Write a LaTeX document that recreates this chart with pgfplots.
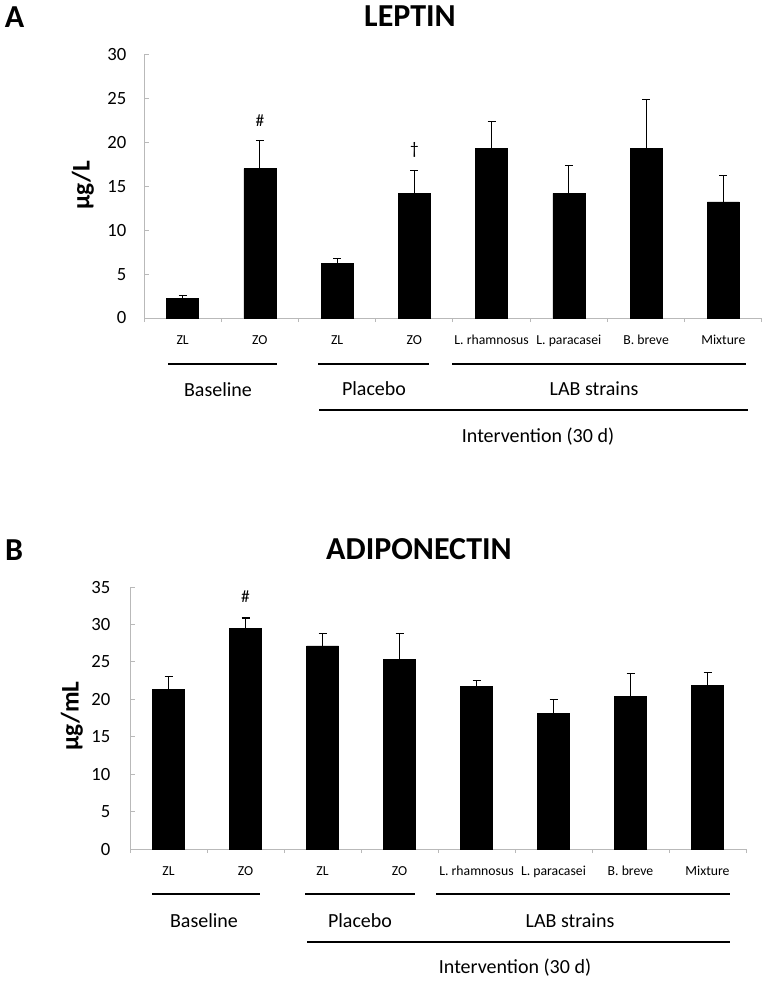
\documentclass[border=0pt]{standalone}
\usepackage{fontspec}
\setmainfont{Carlito}
\usepackage{pgfplots}
\pgfplotsset{compat=1.18}
\usepackage{pgfplotstable}

\pgfplotstableread{
x y e
0.5 2.25 0.28
1.5 17.0 3.2
2.5 6.18 0.6
3.5 14.18 2.65
4.5 19.29 3.1
5.5 14.18 3.17
6.5 19.29 5.6
7.5 13.23 3.0
}\leptin

\pgfplotstableread{
x y e
0.5 21.34 1.66
1.5 29.46 1.4
2.5 27.14 1.6
3.5 25.36 3.44
4.5 21.7 0.82
5.5 18.1 1.86
6.5 20.4 3.1
7.5 21.9 1.67
}\adipo

\pgfplotsset{
  mybars/.style={
    scale only axis, anchor=south west,
    xmin=0, xmax=8, ymin=0,
    axis x line*=bottom, axis y line*=left,
    axis line style={draw=gray!55, line width=0.75pt, -},
    tick align=inside,
    xtick={0.5,1.5,...,7.5},
    xticklabels={ZL,ZO,ZL,ZO,L. rhamnosus,L. paracasei,B. breve,Mixture},
    major x tick style={draw=none},
    minor xtick={0,1,...,8},
    minor tick length=3pt,
    minor x tick style={draw=gray!55, line width=0.75pt, yshift=-3pt},
    major tick length=3.5pt,
    major y tick style={draw=gray!55, line width=0.75pt},
    xticklabel style={anchor=base, yshift=-19.5pt, font=\fontsize{10.3}{12}\selectfont},
    yticklabel style={anchor=east, inner sep=0pt, font=\fontsize{14}{16}\selectfont},
    /pgf/number format/assume math mode=true,
    clip=false,
  },
  mybarplot/.style={
    ybar, bar width=24pt, bar shift=0pt, fill=black, draw=black,
    error bars/.cd, y dir=plus, y explicit,
    error bar style={black, line width=0.9pt},
    error mark options={rotate=90, mark size=3pt, black, line width=0.9pt},
  },
}

\begin{document}
\begin{tikzpicture}
\useasboundingbox (0,0) rectangle (576pt,-736.5pt);

% Panel A
\begin{axis}[mybars, at={(108pt,-238.5pt)}, width=463.5pt, height=197.6pt,
  ymax=30, ytick={0,5,...,30}, yticklabel style={xshift=-13pt}]
\addplot[mybarplot] table[x=x, y=y, y error=e] {\leptin};
\node[font=\fontsize{13}{15}\selectfont] at (axis cs:1.5,22.5) {\#};
\node[font=\fontsize{13}{15}\selectfont] at (axis cs:3.5,19.1) {\textdagger};
\end{axis}

% Panel B
\begin{axis}[mybars, at={(97.5pt,-636.75pt)}, width=462pt, height=196.5pt,
  ymax=35, ytick={0,5,...,35}, yticklabel style={xshift=-14.5pt}]
\addplot[mybarplot] table[x=x, y=y, y error=e] {\adipo};
\node[font=\fontsize{13}{15}\selectfont] at (axis cs:1.5,33.66) {\#};
\end{axis}

\begin{scope}[x=0.75pt, y=-0.75pt]
% Panel A texts
\node[font=\bfseries\fontsize{24}{28}\selectfont] at (14.5,17.5) {A};
\node[font=\bfseries\fontsize{24}{28}\selectfont] at (410,16.5) {LEPTIN};
\node[font=\bfseries\fontsize{19}{22}\selectfont, rotate=90] at (83,185) {μg/L};
\draw[line width=1pt] (168,364) -- (277,364);
\draw[line width=1pt] (318,364) -- (429,364);
\draw[line width=1pt] (452,364) -- (746,364);
\draw[line width=1pt] (319,410) -- (748,410);
\node[font=\fontsize{15}{18}\selectfont] at (218,390) {Baseline};
\node[font=\fontsize{15}{18}\selectfont] at (374,389) {Placebo};
\node[font=\fontsize{15}{18}\selectfont] at (594,389) {LAB strains};
\node[font=\fontsize{15}{18}\selectfont] at (538,437) {Intervention (30 d)};
% Panel B texts
\node[font=\bfseries\fontsize{24}{28}\selectfont] at (14,550) {B};
\node[font=\bfseries\fontsize{24}{28}\selectfont] at (419,549) {ADIPONECTIN};
\node[font=\bfseries\fontsize{19}{22}\selectfont, rotate=90] at (72,716) {μg/mL};
\draw[line width=1pt] (152,894) -- (260,894);
\draw[line width=1pt] (305,894) -- (415,894);
\draw[line width=1pt] (436,894) -- (730,894);
\draw[line width=1pt] (307,942) -- (730,942);
\node[font=\fontsize{15}{18}\selectfont] at (204,921) {Baseline};
\node[font=\fontsize{15}{18}\selectfont] at (360,921) {Placebo};
\node[font=\fontsize{15}{18}\selectfont] at (570,921) {LAB strains};
\node[font=\fontsize{15}{18}\selectfont] at (515,968) {Intervention (30 d)};
\end{scope}
\end{tikzpicture}
\end{document}
